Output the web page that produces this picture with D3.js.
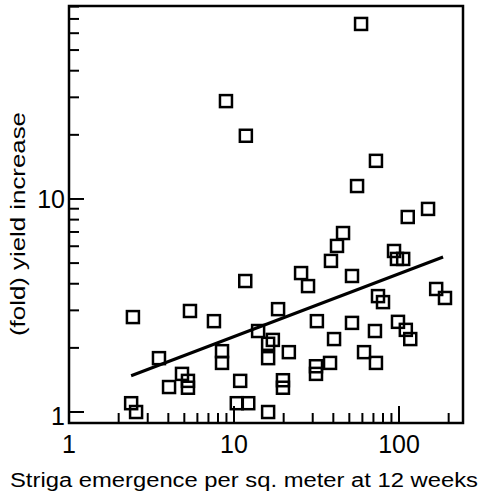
<!DOCTYPE html>
<html>
<head>
<meta charset="utf-8">
<style>
  body { margin: 0; background: #fff; }
  svg { display: block; font-family: "Liberation Sans", Arial, Helvetica, sans-serif; }
</style>
</head>
<body>
<svg width="480" height="499"></svg>
<script src="https://d3js.org/d3.v7.min.js"></script>
<script>
// striga emergence (per sq. m) vs fold yield increase
const emergence = [58.9, 8.94, 11.8, 72.5, 55.7, 150, 113, 45.8, 42.1, 38.7,
  93.3, 97.2, 106, 51.9, 25.5, 28.1, 11.7, 18.5, 168, 190,
  74.6, 80.0, 31.8, 51.9, 71.5, 98.6, 110, 117, 14.0, 17.2,
  16.1, 16.1, 21.5, 40.4, 61.4, 72.5, 38.2, 31.4, 31.4, 19.8,
  19.8, 16.1, 12.2, 10.4, 10.9, 2.44, 5.41, 7.56, 3.51, 8.46,
  8.46, 4.84, 5.26, 5.26, 4.04, 2.38, 2.55];
const yieldIncrease = [66.3, 28.8, 19.8, 15.1, 11.5, 8.98, 8.23, 6.92, 6.02, 5.12,
  5.70, 5.23, 5.23, 4.35, 4.49, 3.90, 4.12, 3.04, 3.78, 3.43,
  3.50, 3.28, 2.67, 2.62, 2.40, 2.65, 2.43, 2.20, 2.40, 2.18,
  2.09, 1.79, 1.91, 2.20, 1.91, 1.70, 1.70, 1.64, 1.51, 1.41,
  1.30, 1.00, 1.10, 1.10, 1.40, 2.79, 2.98, 2.67, 1.79, 1.93,
  1.70, 1.51, 1.40, 1.30, 1.31, 1.10, 1.00];

// fitted line end points
const fitX = [2.38, 185];
const fitY = [1.48, 5.34];

const xTickLabels = [1, 10, 100];
const yTickLabels = [1, 10];

const svg = d3.select("svg");
const margin = { top: 6, right: 17, bottom: 76, left: 69 };
const width = 480, height = 499;

const x = d3.scaleLog().domain([1, 244.3]).range([margin.left, width - margin.right]);
const y = d3.scaleLog().domain([0.888, 80.5]).range([height - margin.bottom, margin.top]);

const x0 = x.range()[0], x1 = x.range()[1];
const y0 = y.range()[0], y1 = y.range()[1];

// ticks (inside the frame)
const xMinor = [];
[1, 10, 100].forEach(d => { for (let k = 1; k <= 9; k++) if (d * k <= 244) xMinor.push(d * k); });
const yMinor = [];
[1, 10].forEach(d => { for (let k = 1; k <= 9; k++) if (d * k <= 80) yMinor.push(d * k); });

svg.append("g").selectAll("line")
  .data(xMinor.filter(d => d > 1))
  .join("line")
  .attr("x1", d => x(d)).attr("x2", d => x(d))
  .attr("y1", y0)
  .attr("y2", d => y0 - (xTickLabels.includes(d) ? 17 : 10))
  .attr("stroke", "#000").attr("stroke-width", 2);

svg.append("g").selectAll("line")
  .data(yMinor)
  .join("line")
  .attr("y1", d => y(d)).attr("y2", d => y(d))
  .attr("x1", x0)
  .attr("x2", d => x0 + (yTickLabels.includes(d) ? 15 : 10))
  .attr("stroke", "#000").attr("stroke-width", 2);

// frame
svg.append("rect")
  .attr("x", x0).attr("y", y1)
  .attr("width", x1 - x0).attr("height", y0 - y1)
  .attr("fill", "none").attr("stroke", "#000").attr("stroke-width", 2.5);

// tick labels
svg.append("g").selectAll("text")
  .data(xTickLabels)
  .join("text")
  .attr("x", d => x(d))
  .attr("y", 453)
  .attr("text-anchor", "middle")
  .attr("font-size", 25)
  .text(d => d);

svg.append("g").selectAll("text")
  .data(yTickLabels)
  .join("text")
  .attr("x", 65)
  .attr("y", d => y(d) + (d === 1 ? 13 : 9))
  .attr("text-anchor", "end")
  .attr("font-size", 25)
  .text(d => d);

// axis titles
svg.append("text")
  .attr("x", 10).attr("y", 487)
  .attr("font-size", 20)
  .attr("textLength", 468)
  .attr("lengthAdjust", "spacingAndGlyphs")
  .text("Striga emergence per sq. meter at 12 weeks");

svg.append("text")
  .attr("transform", "translate(25,224) rotate(-90)")
  .attr("text-anchor", "middle")
  .attr("font-size", 21)
  .attr("textLength", 224)
  .attr("lengthAdjust", "spacingAndGlyphs")
  .text("(fold) yield increase");

// regression line
svg.append("line")
  .attr("x1", x(fitX[0])).attr("y1", y(fitY[0]))
  .attr("x2", x(fitX[1])).attr("y2", y(fitY[1]))
  .attr("stroke", "#000").attr("stroke-width", 3);

// points
const s = 12;
svg.append("g").selectAll("rect")
  .data(emergence.map((e, i) => [e, yieldIncrease[i]]))
  .join("rect")
  .attr("x", d => x(d[0]) - s / 2)
  .attr("y", d => y(d[1]) - s / 2)
  .attr("width", s).attr("height", s)
  .attr("fill", "none")
  .attr("stroke", "#000").attr("stroke-width", 2.5);
</script>
</body>
</html>
